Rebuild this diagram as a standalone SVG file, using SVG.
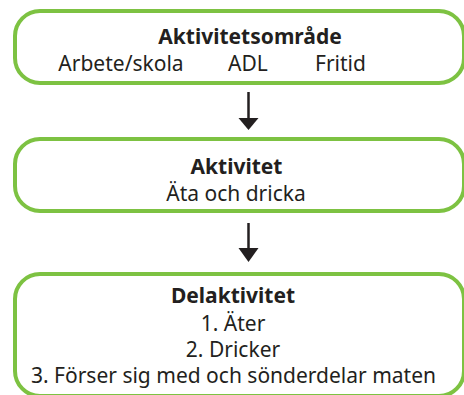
<svg xmlns="http://www.w3.org/2000/svg" width="464" height="395" viewBox="0 0 464 395">
<style>
.box{fill:#fff;stroke:#7dc242;stroke-width:4}
text{font-family:"Noto Sans","Open Sans",sans-serif;fill:#231f20;font-size:21px;text-anchor:middle}
.b{font-weight:bold}
.conn line{stroke:#231f20;stroke-width:2.5}
</style>
<rect width="464" height="395" fill="#fff"/>
<g id="n1">
<rect class="box" x="15" y="11" width="449" height="72" rx="25"/>
<text class="b" x="250" y="44">Aktivitetsområde</text>
<text x="121" y="71">Arbete/skola</text>
<text x="248" y="71">ADL</text>
<text x="340.5" y="71">Fritid</text>
</g>
<g id="n2">
<rect class="box" x="15" y="139" width="449" height="72" rx="25"/>
<text class="b" x="236.5" y="174">Aktivitet</text>
<text x="236" y="201">Äta och dricka</text>
</g>
<g id="n3">
<rect class="box" x="15" y="274" width="449" height="122" rx="25"/>
<text class="b" x="233" y="303">Delaktivitet</text>
<text x="233" y="331">1. Äter</text>
<text x="233" y="357">2. Dricker</text>
<text x="233.5" y="383">3. Förser sig med och sönderdelar maten</text>
</g>
<g class="conn">
<line x1="248.5" y1="92" x2="248.5" y2="119"/>
<path d="M238.5,118 L258.5,118 L248.5,130 Z" fill="#231f20"/>
<line x1="248.5" y1="223" x2="248.5" y2="249"/>
<path d="M238.5,248 L258.5,248 L248.5,262 Z" fill="#231f20"/>
</g>
</svg>
